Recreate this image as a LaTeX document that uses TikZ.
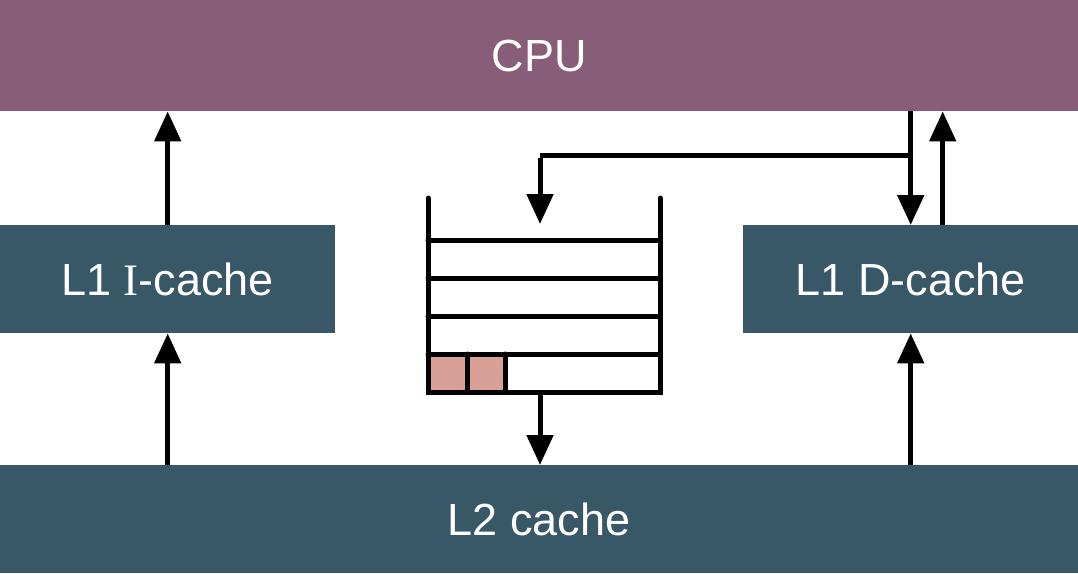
\documentclass[tikz,border=0pt]{standalone}
\usepackage{fontspec}
\setmainfont{Liberation Sans}
\newfontfamily\serifI{Liberation Serif}
\usetikzlibrary{arrows.meta}
\definecolor{cpucol}{HTML}{885D77}
\definecolor{cachecol}{HTML}{385868}
\definecolor{cellcol}{HTML}{D8A097}
\tikzset{
  bar/.style={fill=cpucol, draw=none, inner sep=0pt, text=white, font=\fontsize{45}{54}\selectfont, anchor=north west},
  cachebox/.style={bar, fill=cachecol},
  arr/.style={line width=5pt, -{Triangle[width=26pt,length=30pt]}},
  wire/.style={line width=5pt},
  bufline/.style={line width=5pt, line cap=round},
}
\begin{document}
\begin{tikzpicture}[x=1pt,y=-1pt]
\useasboundingbox (0,0) rectangle (1078,573);
% boxes
\node[bar, minimum width=1078pt, minimum height=111pt] (cpu) at (0,0) {CPU};
\node[cachebox, minimum width=335pt, minimum height=108pt] (l1i) at (0,225) {L1 {\serifI I}-cache};
\node[cachebox, minimum width=335pt, minimum height=108pt] (l1d) at (743,225) {L1 D-cache};
\node[cachebox, minimum width=1078pt, minimum height=108pt] (l2) at (0,465) {L2 cache};
% buffer
\fill[cellcol] (428,354) rectangle (467,392);
\fill[cellcol] (467,354) rectangle (505,392);
\draw[bufline] (428,198) -- (428,392) -- (660,392) -- (660,198);
\foreach \yy in {240,278,316,354}{
  \draw[bufline] (428,\yy) -- (660,\yy);
}
\draw[bufline] (467,354) -- (467,392);
\draw[bufline] (505,354) -- (505,392);
\coordinate (bufin) at (540,224);
\coordinate (bufout) at (540,392);
\coordinate (tap) at (910,155);
% connectors
\draw[arr] (l1i.north) -- (l1i.north |- cpu.south);
\draw[arr] (l2.north -| l1i.south) -- (l1i.south);
\draw[arr] (cpu.south -| l1d.north) -- (l1d.north);
\draw[arr] ([xshift=32pt]l1d.north) -- ([xshift=32pt]l1d.north |- cpu.south);
\draw[arr] (l2.north -| l1d.south) -- (l1d.south);
\draw[wire] (tap) -- (tap -| bufin);
\draw[arr] ([yshift=-2.5pt]tap -| bufin) -- (bufin);
\draw[arr] (bufout) -- (bufout |- l2.north);
\end{tikzpicture}
\end{document}
